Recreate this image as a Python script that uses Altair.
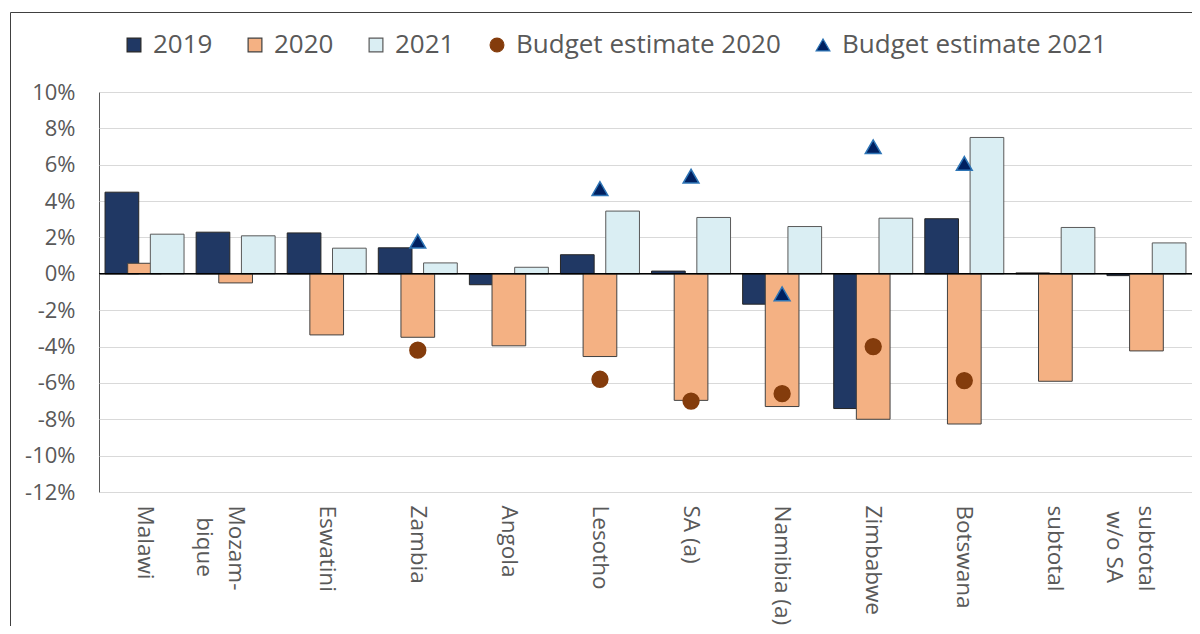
import altair as alt
import pandas as pd

# ---- data (in %) ----
# "|" marks a line break in the category label; the leading spaces keep the
# centred look of the second line
IND2 = "\u200b\u00a0\u00a0"
IND1 = "\u200b\u00a0"
categories = ["Malawi", "Mozam-|" + IND2 + "bique", "Eswatini", "Zambia", "Angola", "Lesotho",
              "SA (a)", "Namibia (a)", "Zimbabwe", "Botswana", "subtotal",
              "subtotal|" + IND1 + "w/o SA"]
v2019 = [4.49, 2.29, 2.25, 1.43, -0.60, 1.05, 0.15, -1.67, -7.41, 3.03, 0.05, -0.10]
v2020 = [0.58, -0.50, -3.36, -3.49, -3.96, -4.55, -6.96, -7.30, -8.00, -8.26, -5.91, -4.24]
v2021 = [2.18, 2.09, 1.41, 0.60, 0.36, 3.45, 3.10, 2.60, 3.06, 7.50, 2.55, 1.70]
budget2020 = [None, None, None, -4.20, None, -5.80, -7.00, -6.59, -4.00, -5.87, None, None]
budget2021 = [None, None, None, 1.79, None, 4.69, 5.37, -1.10, 6.99, 6.07, None, None]

series_names = ["2019", "2020", "2021", "Budget estimate 2020", "Budget estimate 2021"]
fill_colors = ["#203864", "#F4B183", "#DAEEF3", "#843C0C", "#002060"]
stroke_colors = ["#262626", "#404040", "#595959", "#843C0C", "#2E75B6"]
shapes = ["square", "square", "square", "circle", "triangle-up"]
y_ticks = list(range(-12, 11, 2))

# ---- tables built from the arrays ----
bar_rows = []
for name, vals in zip(series_names[:3], [v2019, v2020, v2021]):
    for c, v in zip(categories, vals):
        bar_rows.append({"category": c, "series": name, "value": v})
bars_df = pd.DataFrame(bar_rows)

pt_rows = []
for name, vals in zip(series_names[3:], [budget2020, budget2021]):
    for c, v in zip(categories, vals):
        if v is not None:
            pt_rows.append({"category": c, "series": name, "value": v})
pts_df = pd.DataFrame(pt_rows)

FONT = "Open Sans"
GRAY = "#595959"

color_scale = alt.Scale(domain=series_names, range=fill_colors)
stroke_scale = alt.Scale(domain=series_names, range=stroke_colors)
shape_scale = alt.Scale(domain=series_names, range=shapes)

leg = alt.Legend(title=None, orient="none", direction="horizontal",
                 legendX=22, legendY=-60, padding=0,
                 labelFont=FONT, labelFontSize=26, labelColor=GRAY,
                 symbolSize=190, symbolStrokeWidth=1.2, labelOffset=6,
                 columnPadding=29, labelLimit=400)

x_axis = alt.Axis(title=None, labelAngle=90, labelAlign="left",
                  labelBaseline="middle",
                  labelExpr="split(datum.label, '|')",
                  labelFont=FONT, labelFontSize=22.5, labelColor=GRAY,
                  labelPadding=13, ticks=False, domain=False,
                  grid=False, labelLimit=300, labelLineHeight=32)
x_scale = alt.Scale(paddingInner=0.254, paddingOuter=0.127)

y_axis = alt.Axis(title=None, values=y_ticks,
                  labelExpr="datum.value + '%'",
                  labelOverlap=False, labelFlush=False,
                  grid=True, gridColor="#D9D9D9", gridWidth=1,
                  domain=False, ticks=False,
                  labelFont=FONT, labelFontSize=22, labelColor=GRAY,
                  labelPadding=24)
y_scale = alt.Scale(domain=[-12, 10], nice=False, zero=False)


def y_enc():
    return alt.Y("value:Q", stack=None, scale=y_scale, axis=y_axis)


def x_enc():
    return alt.X("category:N", sort=categories, scale=x_scale, axis=x_axis)


bars = alt.Chart(bars_df).mark_bar(width=33.7, strokeWidth=1).encode(
    x=x_enc(),
    xOffset=alt.XOffset("series:N", scale=alt.Scale(domain=series_names[:3],
                                                    paddingInner=0, paddingOuter=0)),
    y=y_enc(),
    color=alt.Color("series:N", scale=color_scale, legend=leg),
    stroke=alt.Stroke("series:N", scale=stroke_scale, legend=leg),
)

zero = alt.Chart(pd.DataFrame({"value": [0]})).mark_rule(
    color="#000000", strokeWidth=1.5).encode(y=y_enc())

points = alt.Chart(pts_df).mark_point(filled=True, size=250, opacity=1,
                                      strokeWidth=1.5).encode(
    x=x_enc(),
    y=y_enc(),
    color=alt.Color("series:N", scale=color_scale, legend=leg),
    stroke=alt.Stroke("series:N", scale=stroke_scale, legend=leg),
    shape=alt.Shape("series:N", scale=shape_scale, legend=leg),
)

frame_df = pd.DataFrame({"k": [0]})
frame_left = alt.Chart(frame_df).mark_rule(color="#404040", strokeWidth=1).encode(
    x=alt.value(-88.5), y=alt.value(-79.5), y2=alt.value(560))
frame_top = alt.Chart(frame_df).mark_rule(color="#404040", strokeWidth=1).encode(
    x=alt.value(-88.5), x2=alt.value(1200), y=alt.value(-79.5))

chart = alt.layer(bars, zero, points, frame_left, frame_top).properties(
    width=1093, height=400,
    autosize=alt.AutoSizeParams(type="none"),
    padding={"left": 91, "top": 84, "right": 0, "bottom": 134},
).configure_view(stroke="#595959", strokeWidth=1
).configure_axisY(labelOverlap=False)

chart.save("out.html", embed_options={"renderer": "svg", "actions": False})
